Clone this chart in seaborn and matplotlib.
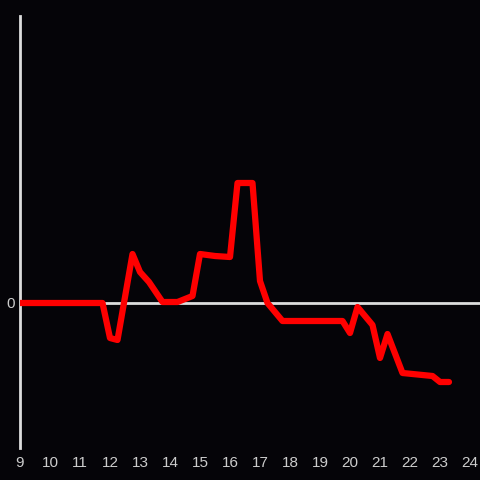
import matplotlib
matplotlib.use("Agg")
import matplotlib.pyplot as plt
import seaborn as sns
import pandas as pd

# hora do dia e valor (unidades arbitrárias)
horas = [9.0, 11.75, 12.0, 12.25, 12.75, 13.0, 13.3, 13.75, 14.25, 14.75,
         15.0, 15.5, 16.0, 16.25, 16.75, 17.0, 17.25, 17.75, 19.75, 20.0,
         20.25, 20.75, 21.0, 21.25, 21.75, 22.75, 23.0, 23.3]
valores = [0, 0, -35, -37, 49, 31, 21, 1, 1, 7,
           49, 47, 46, 120, 120, 22, 0, -18, -18, -30,
           -4, -22, -55, -31, -70, -73, -79, -79]
xticks = list(range(9, 25))

BG = "#050408"
FG = "#dddddd"

df = pd.DataFrame({"hora": horas, "valor": valores})

sns.set_style("dark")
plt.rcParams["font.family"] = ["Liberation Sans", "DejaVu Sans"]

fig = plt.figure(figsize=(4.8, 4.8), dpi=100, facecolor=BG)
ax = fig.add_axes([20 / 480, 1 - 448 / 480, 1 - 20 / 480, 432 / 480])
ax.set_facecolor(BG)

ax.axhline(0, color=FG, lw=2, zorder=1)
sns.lineplot(data=df, x="hora", y="valor", color="#ff0000", lw=4.5, ax=ax, zorder=3)

ax.set_xlim(9, 9 + 460 / 30)
ax.set_ylim(-145, 287)
ax.set_xticks(xticks)
ax.set_xticklabels([str(t) for t in xticks])
ax.set_yticks([0])
ax.set_yticklabels(["0"])
ax.tick_params(colors="#cccccc", labelsize=11, length=0)
ax.tick_params(axis="x", pad=6)
ax.tick_params(axis="y", pad=4)
ax.set_xlabel("")
ax.set_ylabel("")
ax.grid(False)

for s in ["top", "right", "bottom"]:
    ax.spines[s].set_visible(False)
ax.spines["left"].set_color(FG)
ax.spines["left"].set_linewidth(2)

fig.savefig("out.png", dpi=100, facecolor=BG)
